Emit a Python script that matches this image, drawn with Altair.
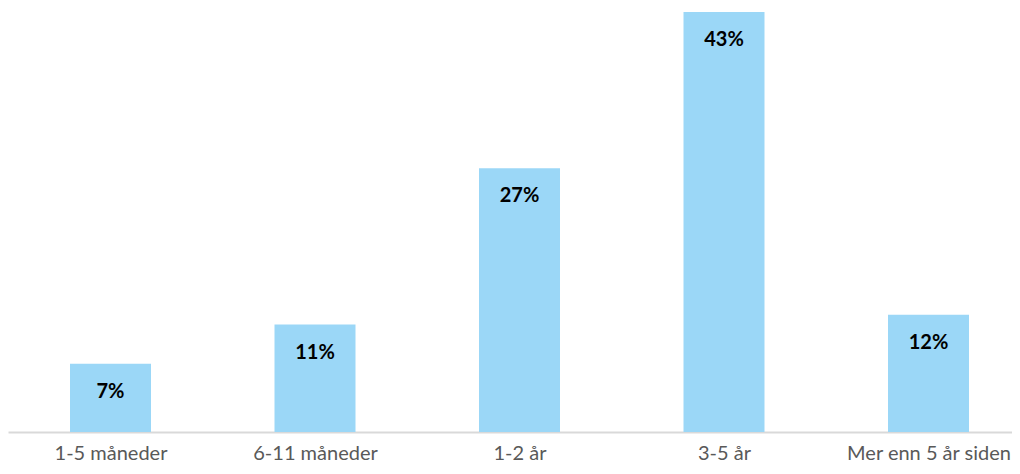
import altair as alt
import pandas as pd
import json

categories = ["1-5 måneder", "6-11 måneder", "1-2 år", "3-5 år", "Mer enn 5 år siden"]
values = [7, 11, 27, 43, 12]
labels = ["7%", "11%", "27%", "43%", "12%"]

df = pd.DataFrame({"idx": list(range(len(categories))), "cat": categories,
                   "val": values, "lab": labels})

label_expr = json.dumps(categories, ensure_ascii=False) + "[datum.value]"

x = alt.X("idx:Q", title=None,
          scale=alt.Scale(domain=[-0.5012, 4.4083], nice=False, zero=False, padding=0),
          axis=alt.Axis(values=list(range(len(categories))), labelExpr=label_expr,
                        ticks=False, domainColor="#D9D9D9", domainWidth=2,
                        labelFont="Lato", labelFontSize=20, labelColor="#595959",
                        labelPadding=11, grid=False, labelOverlap=False,
                        labelLimit=0, labelFlush=False))
y = alt.Y("val:Q", title=None, scale=alt.Scale(domain=[0, 43], nice=False, padding=0), axis=None)

bars = alt.Chart(df).mark_bar(color="#9BD7F7", size=81).encode(x=x, y=y)
text = alt.Chart(df).mark_text(font="Lato", fontSize=20, fontWeight="bold", color="#000000",
                               baseline="middle", dy=28).encode(x=x, y=y, text="lab:N")

chart = (bars + text).properties(
    width=1004, height=420,
    autosize=alt.AutoSizeParams(type="none"),
    padding={"top": 4, "left": 0, "right": 0, "bottom": 34},
).configure_view(stroke=None)

chart.save("out.html", embed_options={"renderer": "svg", "actions": False})
